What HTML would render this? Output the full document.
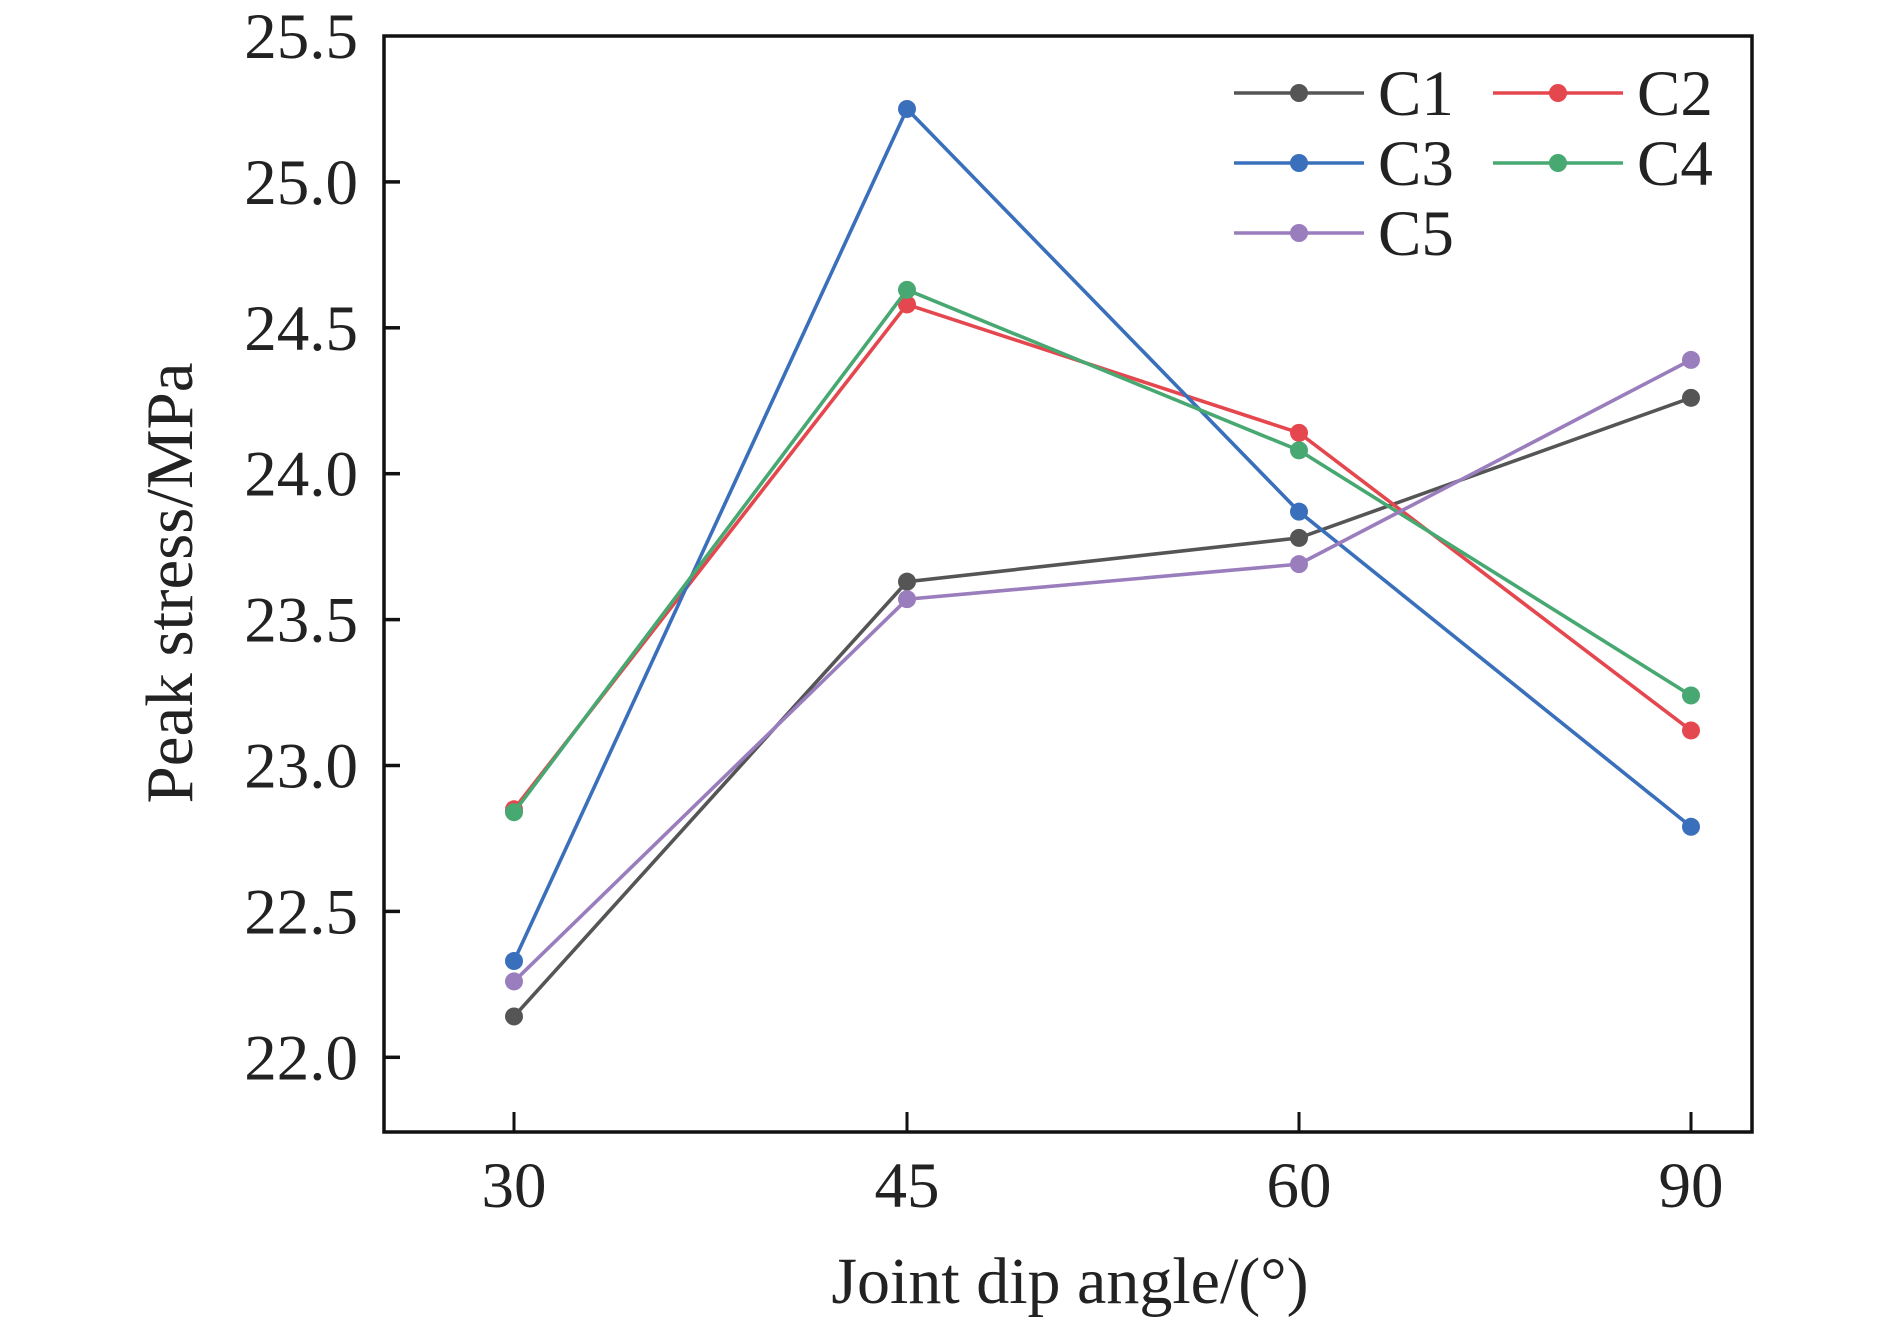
<!DOCTYPE html>
<html><head><meta charset="utf-8"><style>
html,body{margin:0;padding:0;background:#fff}
svg text{font-family:"Liberation Serif",serif;fill:#222}
</style></head><body>
<svg id="s" width="1890" height="1322" xmlns="http://www.w3.org/2000/svg"></svg>
<script>
const L=384,R=1752,T=36,B=1132;
const X=[514,907,1299,1691];
const y=v=>T+(25.5-v)*291.8;
let h='';
h+=`<rect x="${L}" y="${T}" width="${R-L}" height="${B-T}" fill="none" stroke="#111" stroke-width="3.5"/>`;
for(let i=0;i<8;i++){const v=25.5-i*0.5,yy=y(v);
 if(i>0)h+=`<line x1="${L}" y1="${yy}" x2="${L+16}" y2="${yy}" stroke="#111" stroke-width="3.5"/>`;
 h+=`<text x="358" y="${yy+22}" font-size="65" text-anchor="end">${v.toFixed(1)}</text>`;}
const xl=['30','45','60','90'];
X.forEach((x,i)=>{h+=`<line x1="${x}" y1="${B}" x2="${x}" y2="${B-20}" stroke="#111" stroke-width="3"/>`;
 h+=`<text x="${x}" y="1207" font-size="65" text-anchor="middle">${xl[i]}</text>`;});
h+=`<text x="1070" y="1303" font-size="66" text-anchor="middle">Joint dip angle/(°)</text>`;
h+=`<text transform="translate(192,583) rotate(-90)" font-size="67" text-anchor="middle">Peak stress/MPa</text>`;
const S=[['C1','#555555',[22.14,23.63,23.78,24.26]],['C2','#e5474e',[22.85,24.58,24.14,23.12]],
['C3','#3a70bb',[22.33,25.25,23.87,22.79]],['C4','#48a872',[22.84,24.63,24.08,23.24]],['C5','#9a7dbd',[22.26,23.57,23.69,24.39]]];
S.forEach(([n,c,d])=>{h+=`<polyline fill="none" stroke="${c}" stroke-width="3.6" points="${d.map((v,i)=>X[i]+','+y(v)).join(' ')}"/>`;
 d.forEach((v,i)=>h+=`<circle cx="${X[i]}" cy="${y(v)}" r="9" fill="${c}"/>`);});
const pos=[[1234,93],[1493,93],[1234,163],[1493,163],[1234,233]];
S.forEach(([n,c],i)=>{const [x,yy]=pos[i];
 h+=`<line x1="${x}" y1="${yy}" x2="${x+130}" y2="${yy}" stroke="${c}" stroke-width="3.6"/><circle cx="${x+65}" cy="${yy}" r="9" fill="${c}"/>`;
 h+=`<text x="${x+144}" y="${yy+22}" font-size="65">${n}</text>`;});
document.getElementById('s').innerHTML=h;
</script>
</body></html>
